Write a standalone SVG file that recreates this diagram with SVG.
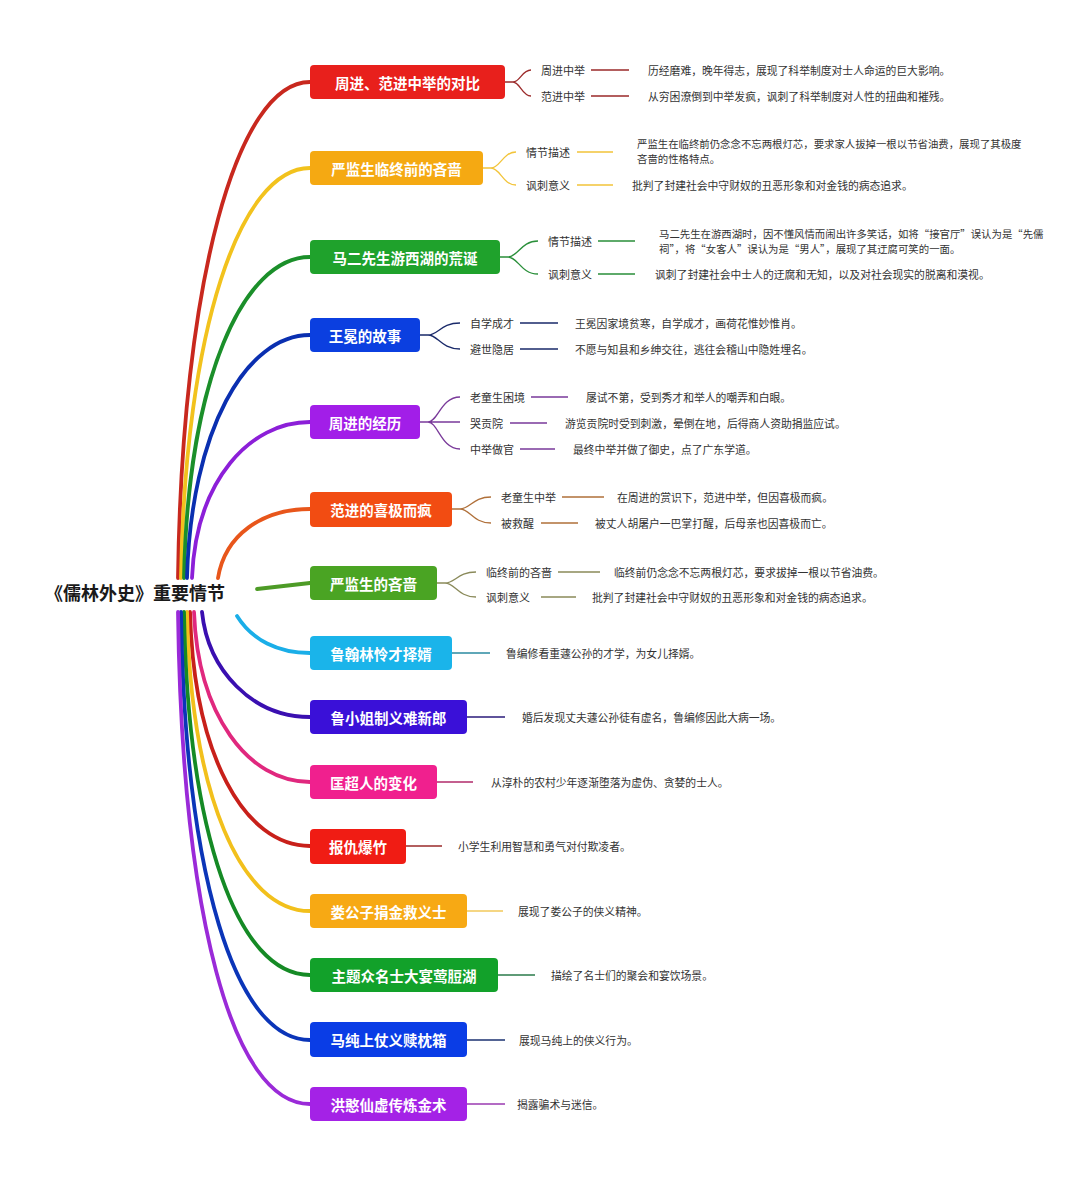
<svg xmlns="http://www.w3.org/2000/svg" width="1080" height="1193" viewBox="0 0 1080 1193">
<style>
text{font-family:"Noto Sans CJK SC","Noto Sans",sans-serif;}
.root{font-size:18px;font-weight:bold;fill:#1a1a1a;}
.nt{font-size:14.5px;font-weight:bold;fill:#fff;text-anchor:middle;dominant-baseline:central;}
.cl{font-size:11px;fill:#333;dominant-baseline:central;}
.dt{font-size:10.8px;fill:#333;dominant-baseline:central;}
.dt2{font-size:10.4px;fill:#333;}
.main{fill:none;stroke-width:3.8;stroke-linecap:round;}
.sub{fill:none;stroke-width:1.3;}
</style>
<rect width="1080" height="1193" fill="#fff"/>
<g id="connectors">
<path class="main" stroke="#c8281e" d="M178,578 C182,281 237,82 310,82"/>
<path class="main" stroke="#f2c21d" d="M181,578 C185,330 240,168 310,168"/>
<path class="main" stroke="#1b8f2a" d="M184,578 C188,380 243,257 310,257"/>
<path class="main" stroke="#0a2fb0" d="M187,578 C191,430 246,335 310,335"/>
<path class="main" stroke="#8c1fd8" d="M192,578 C196,480 250,422 310,422"/>
<path class="main" stroke="#e8561b" d="M218,578 C225,535 262,509 310,509"/>
<path class="main" stroke="#4d9b26" d="M257,589 L310,583"/>
<path class="main" stroke="#1aaee8" d="M237,616 C252,640 278,653 310,653"/>
<path class="main" stroke="#3a0fb0" d="M202,612 C208,670 252,717 310,717"/>
<path class="main" stroke="#e0287e" d="M194,612 C198,715 248,782 310,782"/>
<path class="main" stroke="#c8201a" d="M190,612 C194,755 244,846 310,846"/>
<path class="main" stroke="#f2c01c" d="M187,612 C191,795 241,911 310,911"/>
<path class="main" stroke="#158a25" d="M184,612 C188,835 238,975 310,975"/>
<path class="main" stroke="#0b35b8" d="M181,612 C185,875 235,1040 310,1040"/>
<path class="main" stroke="#9a2ad8" d="M178,612 C182,915 232,1104 310,1104"/>
<g stroke="#9b2a2a" class="sub">
<path d="M505,82 H513 C520,82 522,70 531,70 M513,82 C520,82 522,96 531,96"/>
<path d="M591,70 H629 M591,96 H629"/>
</g>
<g stroke="#f2c43a" class="sub">
<path d="M483,168 H491 C500,168 503,152 516,152 M491,168 C500,168 503,185 516,185"/>
<path d="M577,152 H613 M577,185 H613"/>
</g>
<g stroke="#2a8f3a" class="sub">
<path d="M500,257 H508 C518,257 521,241 538,241 M508,257 C518,257 521,274 538,274"/>
<path d="M598,241 H635 M598,274 H635"/>
</g>
<g stroke="#1a2a6a" class="sub">
<path d="M420,335 H428 C438,335 441,323 460,323 M428,335 C438,335 441,349 460,349"/>
<path d="M520,323 H558 M520,349 H558"/>
</g>
<g stroke="#7a3a9a" class="sub">
<path d="M420,422 H428 C438,422 441,397 460,397 M428,422 C438,422 441,449 460,449 M428,422 H460"/>
<path d="M531,397 H568 M510,423 H547 M520,449 H555"/>
</g>
<g stroke="#b0703a" class="sub">
<path d="M452,509 H460 C470,509 473,497 491,497 M460,509 C470,509 473,523 491,523"/>
<path d="M562,497 H604 M541,523 H578"/>
</g>
<g stroke="#8a8a5a" class="sub">
<path d="M437,583 H445 C455,583 458,572 476,572 M445,583 C455,583 458,597 476,597"/>
<path d="M558,572 H600 M541,597 H576"/>
</g>
<path class="sub" stroke="#2a8aa0" d="M452,653 H490"/>
<path class="sub" stroke="#2a1a7a" d="M467,717 H505"/>
<path class="sub" stroke="#b02a6a" d="M437,782 H473"/>
<path class="sub" stroke="#9a2a2a" d="M406,846 H442"/>
<path class="sub" stroke="#f2c85a" d="M467,911 H503"/>
<path class="sub" stroke="#2a7a4a" d="M498,975 H535"/>
<path class="sub" stroke="#1a3070" d="M467,1040 H505"/>
<path class="sub" stroke="#9a3ab0" d="M467,1104 H505"/>
</g>
<g id="root"><text class="root" x="45" y="600">《儒林外史》重要情节</text></g>
<g id="n1">
<rect x="310" y="65" width="195" height="34" rx="4" fill="#e8201c"/>
<text class="nt" x="407.5" y="82">周进、范进中举的对比</text>
<text class="cl" x="541" y="70">周进中举</text>
<text class="cl" x="541" y="96">范进中举</text>
<text class="dt" x="648" y="70">历经磨难，晚年得志，展现了科举制度对士人命运的巨大影响。</text>
<text class="dt" x="648" y="96">从穷困潦倒到中举发疯，讽刺了科举制度对人性的扭曲和摧残。</text>
</g>
<g id="n2">
<rect x="310" y="151" width="173" height="34" rx="4" fill="#f5a912"/>
<text class="nt" x="396.5" y="168">严监生临终前的吝啬</text>
<text class="cl" x="526" y="152">情节描述</text>
<text class="cl" x="526" y="185">讽刺意义</text>
<text class="dt2" x="637" y="147.5"><tspan x="637" y="147.5">严监生在临终前仍念念不忘两根灯芯，要求家人拔掉一根以节省油费，展现了其极度</tspan><tspan x="637" y="162.5">吝啬的性格特点。</tspan></text>
<text class="dt" x="632" y="185">批判了封建社会中守财奴的丑恶形象和对金钱的病态追求。</text>
</g>
<g id="n3">
<rect x="310" y="240" width="190" height="34" rx="4" fill="#1fa22c"/>
<text class="nt" x="405" y="257">马二先生游西湖的荒诞</text>
<text class="cl" x="548" y="241">情节描述</text>
<text class="cl" x="548" y="274">讽刺意义</text>
<text class="dt2" x="659" y="237.5"><tspan x="659" y="237.5">马二先生在游西湖时，因不懂风情而闹出许多笑话，如将“接官厅”误认为是“先儒</tspan><tspan x="659" y="252.5">祠”，将“女客人”误认为是“男人”，展现了其迂腐可笑的一面。</tspan></text>
<text class="dt" x="655" y="274">讽刺了封建社会中士人的迂腐和无知，以及对社会现实的脱离和漠视。</text>
</g>
<g id="n4">
<rect x="310" y="318" width="110" height="34" rx="4" fill="#0b3fe0"/>
<text class="nt" x="365" y="335">王冕的故事</text>
<text class="cl" x="470" y="323">自学成才</text>
<text class="cl" x="470" y="349">避世隐居</text>
<text class="dt" x="575" y="323">王冕因家境贫寒，自学成才，画荷花惟妙惟肖。</text>
<text class="dt" x="575" y="349">不愿与知县和乡绅交往，逃往会稽山中隐姓埋名。</text>
</g>
<g id="n5">
<rect x="310" y="405" width="110" height="34" rx="4" fill="#a21ee8"/>
<text class="nt" x="365" y="422">周进的经历</text>
<text class="cl" x="470" y="397">老童生困境</text>
<text class="cl" x="470" y="423">哭贡院</text>
<text class="cl" x="470" y="449">中举做官</text>
<text class="dt" x="586" y="397">屡试不第，受到秀才和举人的嘲弄和白眼。</text>
<text class="dt" x="565" y="423">游览贡院时受到刺激，晕倒在地，后得商人资助捐监应试。</text>
<text class="dt" x="573" y="449">最终中举并做了御史，点了广东学道。</text>
</g>
<g id="n6">
<rect x="310" y="492" width="142" height="35" rx="4" fill="#f24c12"/>
<text class="nt" x="381" y="509.5">范进的喜极而疯</text>
<text class="cl" x="501" y="497">老童生中举</text>
<text class="cl" x="501" y="523">被救醒</text>
<text class="dt" x="617" y="497">在周进的赏识下，范进中举，但因喜极而疯。</text>
<text class="dt" x="595" y="523">被丈人胡屠户一巴掌打醒，后母亲也因喜极而亡。</text>
</g>
<g id="n7">
<rect x="310" y="566" width="127" height="34" rx="4" fill="#4aa423"/>
<text class="nt" x="373.5" y="583">严监生的吝啬</text>
<text class="cl" x="486" y="572">临终前的吝啬</text>
<text class="cl" x="486" y="597">讽刺意义</text>
<text class="dt" x="614" y="572">临终前仍念念不忘两根灯芯，要求拔掉一根以节省油费。</text>
<text class="dt" x="592" y="597">批判了封建社会中守财奴的丑恶形象和对金钱的病态追求。</text>
</g>
<g id="n8">
<rect x="310" y="636" width="142" height="34" rx="4" fill="#1ab4ea"/>
<text class="nt" x="381" y="653">鲁翰林怜才择婿</text>
<text class="dt" x="506" y="653">鲁编修看重蘧公孙的才学，为女儿择婿。</text>
</g>
<g id="n9">
<rect x="310" y="700" width="157" height="34" rx="4" fill="#3a10d8"/>
<text class="nt" x="388.5" y="717">鲁小姐制义难新郎</text>
<text class="dt" x="522" y="717">婚后发现丈夫蘧公孙徒有虚名，鲁编修因此大病一场。</text>
</g>
<g id="n10">
<rect x="310" y="765" width="127" height="34" rx="4" fill="#f0208e"/>
<text class="nt" x="373.5" y="782">匡超人的变化</text>
<text class="dt" x="491" y="782">从淳朴的农村少年逐渐堕落为虚伪、贪婪的士人。</text>
</g>
<g id="n11">
<rect x="310" y="829" width="96" height="35" rx="4" fill="#f01c14"/>
<text class="nt" x="358" y="846.5">报仇爆竹</text>
<text class="dt" x="458" y="846">小学生利用智慧和勇气对付欺凌者。</text>
</g>
<g id="n12">
<rect x="310" y="894" width="157" height="34" rx="4" fill="#f7a914"/>
<text class="nt" x="388.5" y="911">娄公子捐金救义士</text>
<text class="dt" x="518" y="911">展现了娄公子的侠义精神。</text>
</g>
<g id="n13">
<rect x="310" y="958" width="188" height="34" rx="4" fill="#12a12a"/>
<text class="nt" x="404" y="975">主题众名士大宴莺脰湖</text>
<text class="dt" x="551" y="975">描绘了名士们的聚会和宴饮场景。</text>
</g>
<g id="n14">
<rect x="310" y="1022" width="157" height="35" rx="4" fill="#0a3de6"/>
<text class="nt" x="388.5" y="1039.5">马纯上仗义赎枕箱</text>
<text class="dt" x="519" y="1040">展现马纯上的侠义行为。</text>
</g>
<g id="n15">
<rect x="310" y="1087" width="157" height="34" rx="4" fill="#a422e6"/>
<text class="nt" x="388.5" y="1104">洪憨仙虚传炼金术</text>
<text class="dt" x="517" y="1104">揭露骗术与迷信。</text>
</g>
</svg>
